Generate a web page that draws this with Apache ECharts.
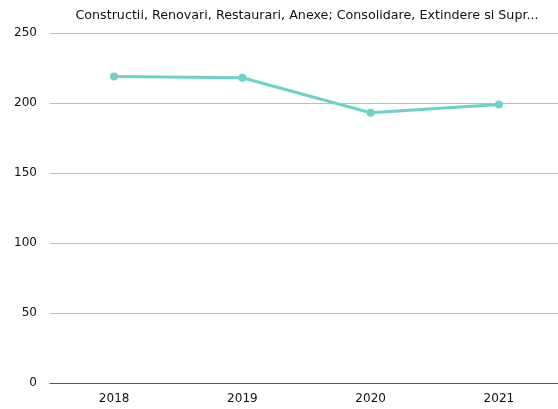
<!DOCTYPE html>
<html>
<head>
<meta charset="utf-8">
<script src="https://cdn.jsdelivr.net/npm/echarts@6/dist/echarts.min.js"></script>
<style>html,body{margin:0;padding:0;background:#fff}#c{width:558px;height:409px}</style>
</head>
<body>
<div id="c"></div>
<script>
const titleText = "Constructii, Renovari, Restaurari, Anexe; Consolidare, Extindere si Supr...";
const categories = ["2018", "2019", "2020", "2021"];
const values = [219, 218, 193, 199];
const yTicks = { min: 0, max: 250, interval: 50 };

const chart = echarts.init(document.getElementById('c'), null, { renderer: 'canvas' });
chart.setOption({
  animation: false,
  backgroundColor: '#ffffff',
  title: {
    text: titleText,
    left: 302,
    textAlign: 'center',
    top: 4,
    textStyle: { fontFamily: 'DejaVu Sans', fontSize: 12.7, fontWeight: 'normal', color: '#111' }
  },
  grid: { left: 50, width: 513, top: 33, bottom: 26, containLabel: false, outerBoundsMode: 'none' },
  xAxis: {
    type: 'category',
    data: categories,
    boundaryGap: true,
    axisLine: { show: true, lineStyle: { color: '#555', width: 1 } },
    axisTick: { show: false },
    axisLabel: { color: '#111', fontFamily: 'DejaVu Sans', fontSize: 12, margin: 10 }
  },
  yAxis: {
    type: 'value',
    min: yTicks.min, max: yTicks.max, interval: yTicks.interval,
    axisLine: { show: false },
    axisTick: { show: false },
    axisLabel: { color: '#111', fontFamily: 'DejaVu Sans', fontSize: 12, margin: 13 },
    splitLine: { lineStyle: { color: '#bdbdbd', width: 1 } }
  },
  series: [{
    type: 'line',
    data: values,
    symbol: 'circle',
    symbolSize: 8,
    lineStyle: { color: '#6dd3c8', width: 3 },
    itemStyle: { color: '#6dd3c8' }
  }]
});
</script>
</body>
</html>
